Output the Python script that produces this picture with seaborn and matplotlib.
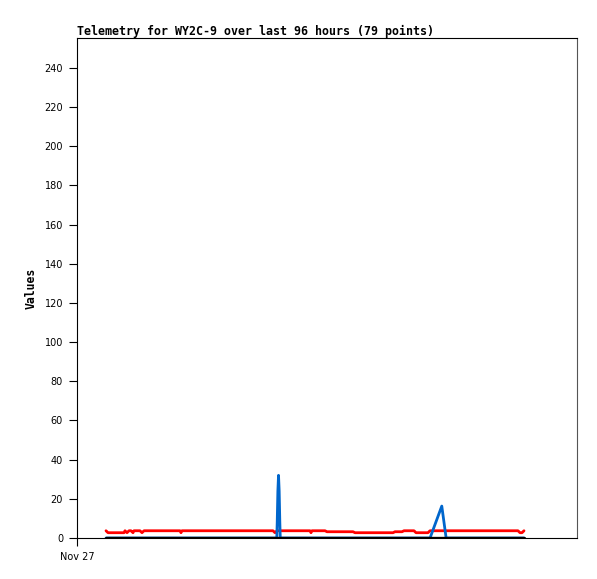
import matplotlib
matplotlib.use("Agg")
import matplotlib.pyplot as plt
import seaborn as sns
import pandas as pd

title = "Telemetry for WY2C-9 over last 96 hours (79 points)"
y_label = "Values"
x_tick_label = "Nov 27"
y_ticks = [0, 20, 40, 60, 80, 100, 120, 140, 160, 180, 200, 220, 240]

# hours since Nov 27 00:00
red_hours = [6.67, 7.13, 10.81, 11.04, 11.50, 11.96, 12.42, 12.88, 13.11, 14.49, 14.95, 15.41,
             23.69, 23.92, 24.15, 45.08, 45.54, 46.00, 53.59, 53.82, 54.05, 57.04, 57.50,
             63.48, 63.94, 72.68, 73.14, 74.75, 75.21, 77.51, 77.97, 80.73, 81.19,
             101.43, 101.89, 102.35, 102.81]
red_values = [3.7, 2.7, 2.7, 3.7, 2.7, 3.7, 3.7, 2.7, 3.7, 3.7, 2.7, 3.7,
              3.7, 2.7, 3.7, 3.7, 2.7, 3.7, 3.7, 2.7, 3.7, 3.7, 3.2,
              3.2, 2.7, 2.7, 3.2, 3.2, 3.7, 3.7, 2.7, 2.7, 3.7,
              3.7, 2.7, 2.7, 3.7]

blue_hours = [6.67, 45.95, 46.05, 46.2, 46.35, 46.5, 46.65, 46.75, 81.2, 83.9, 84.9, 102.81]
blue_values = [0, 0, 8, 24, 32, 24, 8, 0, 0, 16.3, 0, 0]

black_hours = [6.67, 102.81]
black_values = [0, 0]

sns.set_style("white")
plt.rcParams["font.family"] = ["DejaVu Sans"]
plt.rcParams["text.color"] = "black"
plt.rcParams["axes.labelcolor"] = "black"
plt.rcParams["xtick.color"] = "black"
plt.rcParams["ytick.color"] = "black"

fig = plt.figure(figsize=(5.97, 5.79), dpi=100)
ax = fig.add_axes([77/597, 1-538/579, 500/597, 500/579])

red_df = pd.DataFrame({"hours": red_hours, "value": red_values})
blue_df = pd.DataFrame({"hours": blue_hours, "value": blue_values})
black_df = pd.DataFrame({"hours": black_hours, "value": black_values})

sns.lineplot(data=red_df, x="hours", y="value", ax=ax, color="#ff0000", linewidth=2, estimator=None, sort=False, zorder=2)
sns.lineplot(data=blue_df, x="hours", y="value", ax=ax, color="#0066cc", linewidth=2, estimator=None, sort=False, zorder=3)
sns.lineplot(data=black_df, x="hours", y="value", ax=ax, color="#000000", linewidth=2.4, estimator=None, sort=False, zorder=4)

ax.set_xlim(0, 115)
ax.set_ylim(0, 255.3)
ax.set_yticks(y_ticks)
ax.set_yticklabels([str(v) for v in y_ticks], fontsize=7)
ax.set_xticks([0])
ax.set_xticklabels([x_tick_label], fontsize=7)
ax.tick_params(axis="both", direction="out", length=6, width=0.8, colors="black", pad=4, left=True, bottom=True)

for side in ["left", "bottom", "top"]:
    ax.spines[side].set_color("black")
    ax.spines[side].set_linewidth(0.8)
ax.spines["right"].set_color("#555555")
ax.spines["right"].set_linewidth(0.8)

ax.set_xlabel("")
ax.set_ylabel(y_label, fontsize=8.3, fontweight="bold", family="DejaVu Sans Mono", labelpad=5, color="black")
ax.set_title(title, loc="left", fontsize=8.4, fontweight="bold", family="DejaVu Sans Mono", pad=2, color="black")

fig.savefig("out.png", dpi=100, facecolor="white")
